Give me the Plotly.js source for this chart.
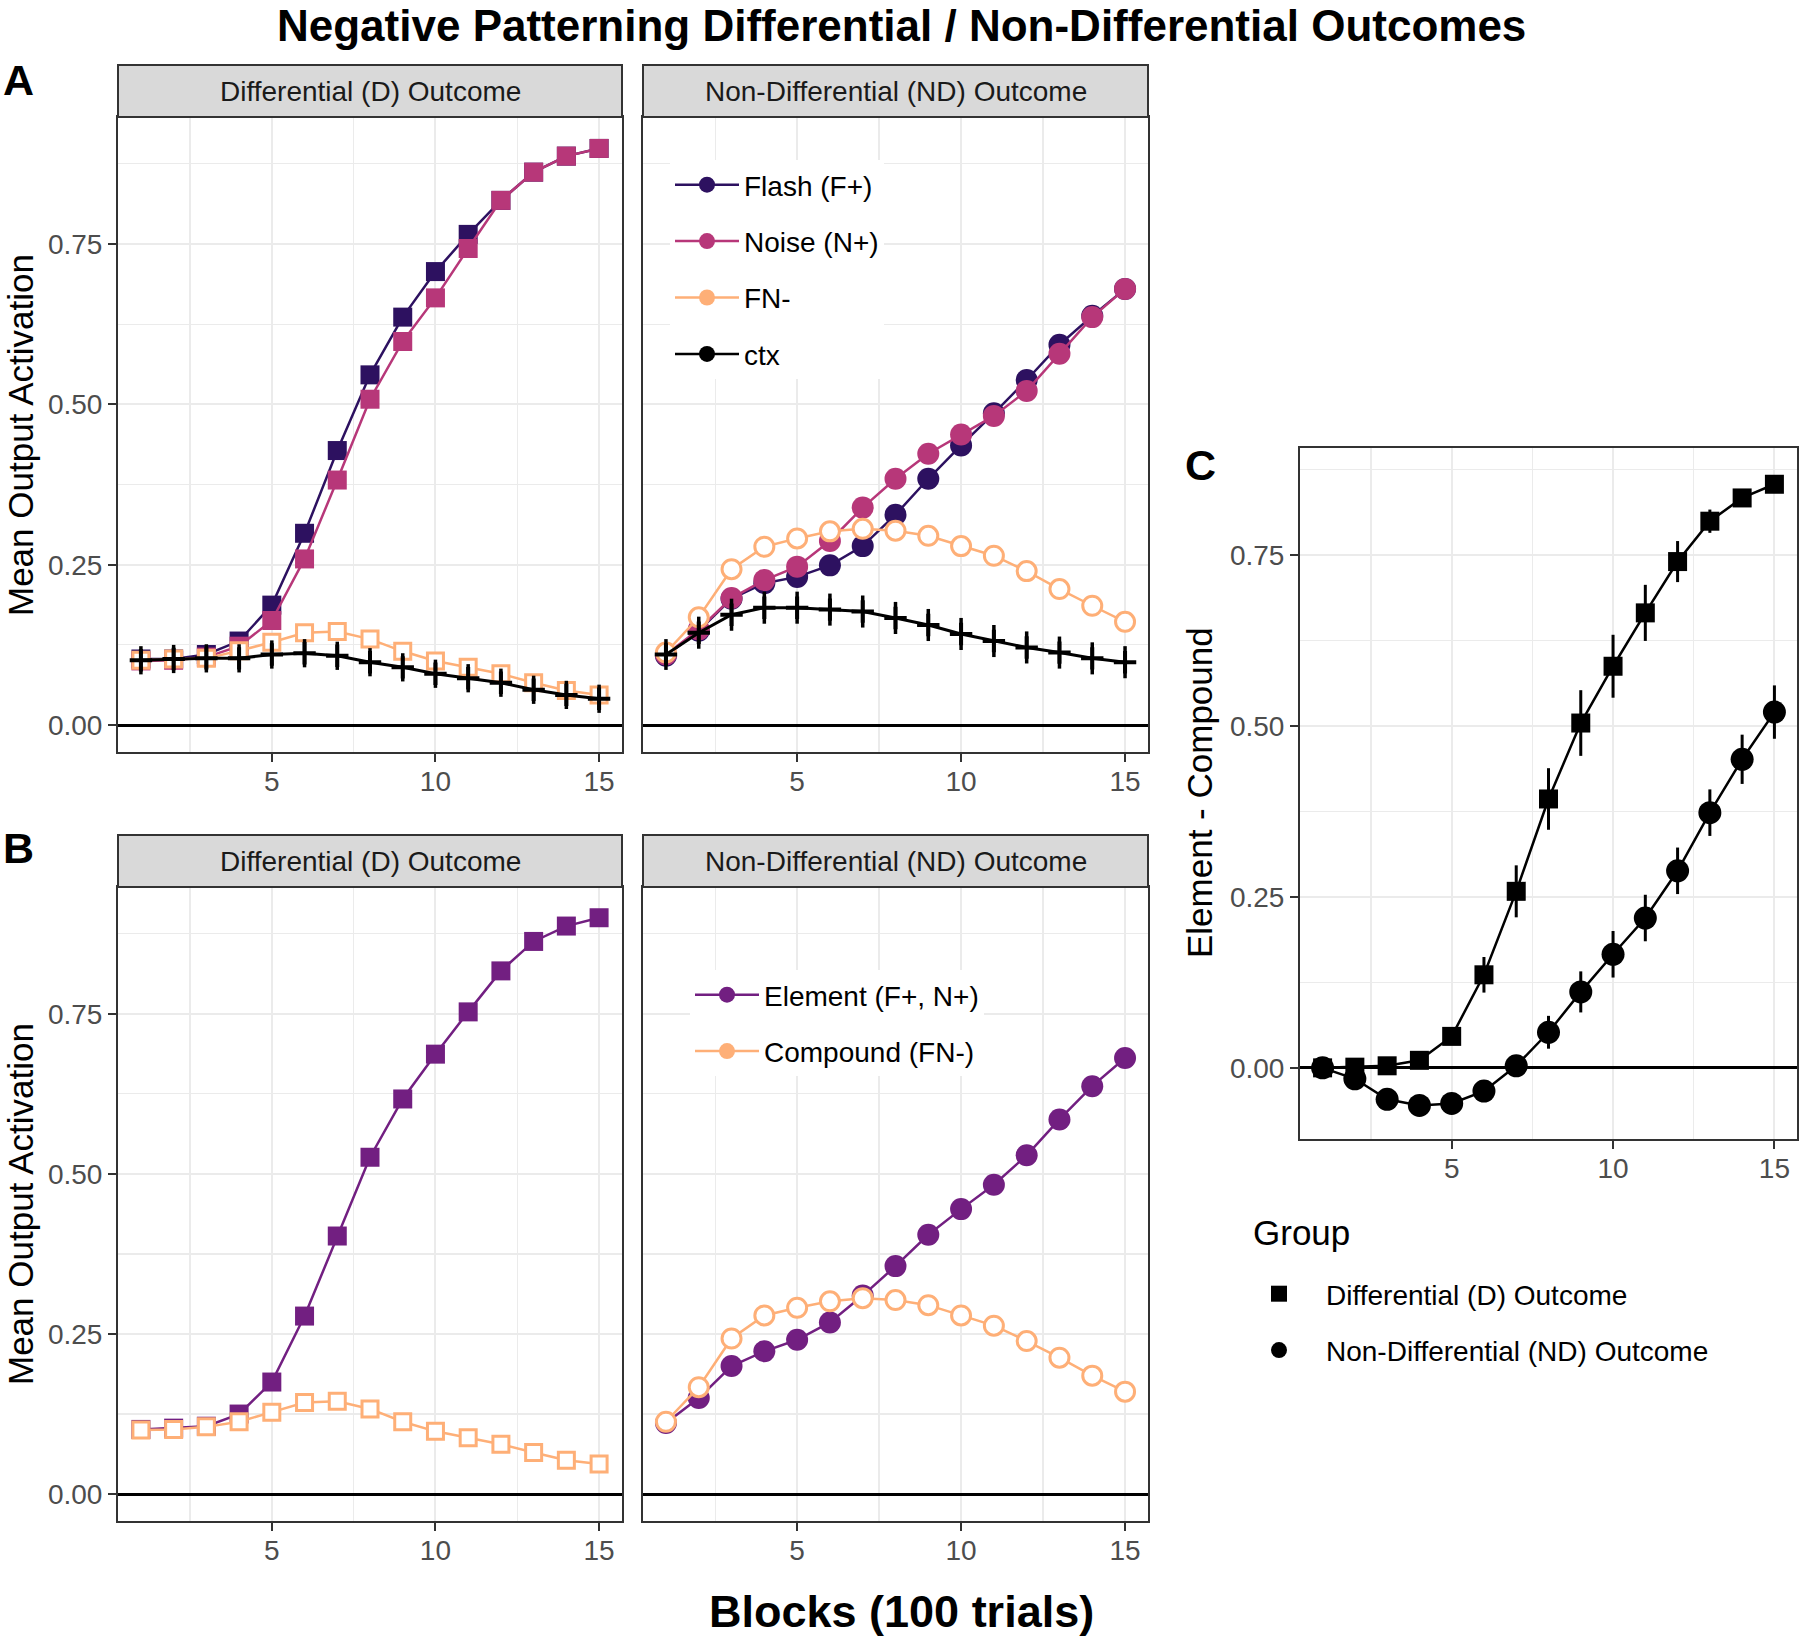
<!DOCTYPE html>
<html><head><meta charset="utf-8">
<script src="https://cdn.plot.ly/plotly-3.0.1.min.js"></script>
<style>html,body{margin:0;padding:0;background:#fff}</style>
</head><body>
<div id="chart" style="width:1800px;height:1641px"></div>
<script>
// ---------------- data ----------------
const blocks = [1,2,3,4,5,6,7,8,9,10,11,12,13,14,15];

// Panel A, Differential outcome
const flashD = [0.103,0.103,0.110,0.131,0.187,0.299,0.428,0.546,0.636,0.707,0.765,0.818,0.862,0.887,0.899];
const noiseD = [0.100,0.101,0.106,0.123,0.163,0.259,0.382,0.508,0.598,0.666,0.743,0.818,0.862,0.887,0.899];
const fnD    = [0.101,0.103,0.104,0.116,0.129,0.144,0.146,0.134,0.115,0.100,0.090,0.080,0.066,0.054,0.047];
const ctxD   = [0.101,0.103,0.104,0.104,0.110,0.112,0.108,0.098,0.090,0.080,0.073,0.066,0.055,0.047,0.041];
const ctxDErr = [0.022,0.022,0.022,0.022,0.022,0.022,0.022,0.022,0.022,0.022,0.022,0.022,0.022,0.022,0.022];

// Panel A, Non-Differential outcome
const flashND = [0.108,0.147,0.197,0.221,0.231,0.249,0.279,0.328,0.384,0.436,0.486,0.538,0.593,0.638,0.680];
const noiseND = [0.110,0.149,0.198,0.226,0.247,0.287,0.339,0.384,0.423,0.453,0.482,0.521,0.579,0.636,0.680];
const fnND    = [0.113,0.168,0.243,0.278,0.291,0.302,0.306,0.303,0.295,0.279,0.264,0.240,0.212,0.186,0.161];
const ctxND   = [0.110,0.144,0.172,0.183,0.183,0.180,0.177,0.167,0.156,0.142,0.131,0.121,0.113,0.104,0.098];
const ctxNDErr = [0.024,0.025,0.025,0.025,0.025,0.025,0.025,0.025,0.025,0.025,0.025,0.025,0.025,0.025,0.025];

// Panel B
const elementD   = [0.101,0.103,0.106,0.125,0.175,0.278,0.403,0.526,0.617,0.687,0.753,0.817,0.863,0.887,0.900];
const compoundD  = [0.100,0.101,0.105,0.113,0.128,0.143,0.145,0.133,0.113,0.098,0.088,0.078,0.065,0.053,0.047];
const elementND  = [0.111,0.150,0.200,0.223,0.241,0.268,0.310,0.356,0.405,0.445,0.483,0.529,0.585,0.637,0.681];
const compoundND = [0.113,0.167,0.243,0.279,0.291,0.301,0.306,0.303,0.295,0.279,0.263,0.239,0.213,0.185,0.160];

// Panel C: Element - Compound
const diffD    = [0.000,0.001,0.003,0.011,0.046,0.136,0.258,0.393,0.504,0.587,0.665,0.740,0.799,0.833,0.853];
const diffDErr = [0.003,0.004,0.006,0.008,0.012,0.026,0.038,0.045,0.048,0.046,0.041,0.030,0.017,0.010,0.008];
const diffND    = [0.000,-0.016,-0.046,-0.055,-0.052,-0.034,0.003,0.052,0.111,0.166,0.219,0.288,0.373,0.451,0.520];
const diffNDErr = [0.004,0.008,0.010,0.010,0.010,0.010,0.012,0.024,0.030,0.034,0.034,0.034,0.034,0.036,0.039];

const xTicks = [5,10,15];
const yTicksAB = [0,0.25,0.5,0.75];
const yTicksC = [0,0.25,0.5,0.75];
const yTickText = ['0.00','0.25','0.50','0.75'];

const seriesA = ['Flash (F+)','Noise (N+)','FN-','ctx'];
const seriesB = ['Element (F+, N+)','Compound (FN-)'];
const groupsC = ['Differential (D) Outcome','Non-Differential (ND) Outcome'];
const stripLabels = ['Differential (D) Outcome','Non-Differential (ND) Outcome'];

// ---------------- styling ----------------
const W = 1800, H = 1641;
const px = v => v / W;
const py = v => 1 - v / H;
const FONT = 'Liberation Sans, Arial, Helvetica, sans-serif';
const C_FLASH = '#2D1160', C_NOISE = '#B73779', C_FN = '#FEAF77', C_ELEM = '#721F81';

const xBase = {
  range:[0.3,15.7], tickmode:'array', tickvals:xTicks, ticktext:xTicks.map(String),
  showline:true, mirror:true, linecolor:'#333333', linewidth:2,
  ticks:'outside', ticklen:8, tickwidth:2, tickcolor:'#333333', ticklabelstandoff:-5,
  showgrid:true, gridcolor:'#ebebeb', gridwidth:2, zeroline:false,
  tickfont:{family:FONT,size:28,color:'#4d4d4d'},
  minor:{tick0:0,dtick:2.5,showgrid:true,gridcolor:'#ebebeb',gridwidth:1.2,ticks:''},
  fixedrange:true
};
function yBase(range, show){
  return {
    range:range, tickmode:'array', tickvals:yTicksAB, ticktext:yTickText,
    showline:true, mirror:true, linecolor:'#333333', linewidth:2,
    ticks: show ? 'outside' : '', ticklen:8, tickwidth:2, tickcolor:'#333333',
    showticklabels: show,
    showgrid:true, gridcolor:'#ebebeb', gridwidth:2,
    zeroline:true, zerolinecolor:'#000000', zerolinewidth:3,
    tickfont:{family:FONT,size:28,color:'#4d4d4d'},
    minor:{tick0:0,dtick:0.125,showgrid:true,gridcolor:'#ebebeb',gridwidth:1.2,ticks:''},
    fixedrange:true
  };
}
const yRangeAB = [-0.042, 0.948];
const yRangeC = [-0.104, 0.906];

const colL = [px(118), px(622)], colR = [px(643), px(1148)];
const rowA = [py(752), py(117)], rowB = [py(1521), py(887)];

function lineTrace(x, y, xa, ya, color, symbol, size, opts){
  const t = {
    x:x, y:y, xaxis:xa, yaxis:ya, type:'scatter', mode:'lines+markers',
    showlegend:false, hoverinfo:'skip',
    line:{color:color, width:2.5},
    marker:{symbol:symbol, size:size, color:color, line:{width:0}}
  };
  return Object.assign(t, opts || {});
}
function openTrace(x, y, xa, ya, color, symbol, size){
  return {
    x:x, y:y, xaxis:xa, yaxis:ya, type:'scatter', mode:'lines+markers',
    showlegend:false, hoverinfo:'skip',
    line:{color:color, width:2.5},
    marker:{symbol:symbol, size:size, color:'#ffffff', line:{color:color, width:3}}
  };
}
function ctxTrace(x, y, err, xa, ya){
  return {
    x:x, y:y, xaxis:xa, yaxis:ya, type:'scatter', mode:'lines+markers',
    showlegend:false, hoverinfo:'skip',
    line:{color:'#000000', width:3},
    marker:{symbol:'cross-thin', size:16, color:'#000000', line:{color:'#000000', width:4}},
    error_y:{type:'data', array:err, visible:true, color:'#000000', thickness:3.5, width:0}
  };
}
function legendDummy(name, color, symbol, xa, ya, legend, group, mode){
  return {
    x:[null], y:[null], xaxis:xa, yaxis:ya, type:'scatter', mode:mode || 'lines+markers',
    name:name, legend:legend, legendgroup:group, showlegend:true, hoverinfo:'skip',
    line:{color:color, width:2.5},
    marker:{symbol:symbol, size:16, color:color}
  };
}

const traces = [
  // A left (D)
  lineTrace(blocks, flashD, 'x', 'y', C_FLASH, 'square', 19),
  lineTrace(blocks, noiseD, 'x', 'y', C_NOISE, 'square', 19),
  openTrace(blocks, fnD, 'x', 'y', C_FN, 'square', 16),
  ctxTrace(blocks, ctxD, ctxDErr, 'x', 'y'),
  // A right (ND)
  lineTrace(blocks, flashND, 'x2', 'y2', C_FLASH, 'circle', 22),
  lineTrace(blocks, noiseND, 'x2', 'y2', C_NOISE, 'circle', 22),
  openTrace(blocks, fnND, 'x2', 'y2', C_FN, 'circle', 19),
  ctxTrace(blocks, ctxND, ctxNDErr, 'x2', 'y2'),
  // B left (D)
  lineTrace(blocks, elementD, 'x3', 'y3', C_ELEM, 'square', 19),
  openTrace(blocks, compoundD, 'x3', 'y3', C_FN, 'square', 16),
  // B right (ND)
  lineTrace(blocks, elementND, 'x4', 'y4', C_ELEM, 'circle', 22),
  openTrace(blocks, compoundND, 'x4', 'y4', C_FN, 'circle', 19),
  // C
  lineTrace(blocks, diffD, 'x5', 'y5', '#000000', 'square', 19,
    {error_y:{type:'data', array:diffDErr, visible:true, color:'#000000', thickness:3, width:0}}),
  lineTrace(blocks, diffND, 'x5', 'y5', '#000000', 'circle', 23,
    {error_y:{type:'data', array:diffNDErr, visible:true, color:'#000000', thickness:3, width:0}}),
  // legend keys
  legendDummy(seriesA[0], C_FLASH, 'circle', 'x2', 'y2', 'legend', 'a1'),
  legendDummy(seriesA[1], C_NOISE, 'circle', 'x2', 'y2', 'legend', 'a2'),
  legendDummy(seriesA[2], C_FN, 'circle', 'x2', 'y2', 'legend', 'a3'),
  legendDummy(seriesA[3], '#000000', 'circle', 'x2', 'y2', 'legend', 'a4'),
  legendDummy(seriesB[0], C_ELEM, 'circle', 'x4', 'y4', 'legend2', 'b1'),
  legendDummy(seriesB[1], C_FN, 'circle', 'x4', 'y4', 'legend2', 'b2'),
  legendDummy(groupsC[0], '#000000', 'square', 'x5', 'y5', 'legend3', 'c1', 'markers'),
  legendDummy(groupsC[1], '#000000', 'circle', 'x5', 'y5', 'legend3', 'c2', 'markers')
];

function strip(x0, x1, y0, y1){
  return {type:'rect', xref:'paper', yref:'paper', x0:px(x0), x1:px(x1), y0:py(y1), y1:py(y0),
          fillcolor:'#d9d9d9', line:{color:'#333333', width:2}, layer:'above'};
}
const shapes = [
  strip(118, 622, 65, 117), strip(643, 1148, 65, 117),
  strip(118, 622, 835, 887), strip(643, 1148, 835, 887)
];

function ann(text, x, y, size, opts){
  return Object.assign({text:text, xref:'paper', yref:'paper', x:x, y:y, showarrow:false,
    xanchor:'center', yanchor:'middle', font:{family:FONT, size:size, color:'#000000'}}, opts || {});
}
const stripFont = {family:FONT,size:28,color:'#1a1a1a'};
const annotations = [
  ann('<b>Negative Patterning Differential / Non-Differential Outcomes</b>', px(901), py(26), 44),
  ann('<b>A</b>', px(18), py(80), 43),
  ann('<b>B</b>', px(18), py(848), 43),
  ann('<b>C</b>', px(1200), py(465), 43),
  ann(stripLabels[0], px(370), py(91), 28, {font:stripFont}),
  ann(stripLabels[1], px(895.5), py(91), 28, {font:stripFont}),
  ann(stripLabels[0], px(370), py(861), 28, {font:stripFont}),
  ann(stripLabels[1], px(895.5), py(861), 28, {font:stripFont}),
  ann('Mean Output Activation', px(20), py(435), 35, {textangle:-90}),
  ann('Mean Output Activation', px(20), py(1204), 35, {textangle:-90}),
  ann('Element - Compound', px(1199), py(793), 35, {textangle:-90}),
  ann('<b>Blocks (100 trials)</b>', px(901), py(1611), 45),
  ann('Group', px(1251), py(1232), 35, {xanchor:'left'})
];

const legFont = {family:FONT, size:28, color:'#000000'};
const layout = {
  width:W, height:H, margin:{l:0,r:0,t:0,b:0},
  paper_bgcolor:'#ffffff', plot_bgcolor:'#ffffff',
  font:{family:FONT},
  xaxis:Object.assign({}, xBase, {domain:colL, anchor:'y'}),
  yaxis:Object.assign(yBase(yRangeAB, true), {domain:rowA, anchor:'x'}),
  xaxis2:Object.assign({}, xBase, {domain:colR, anchor:'y2'}),
  yaxis2:Object.assign(yBase(yRangeAB, false), {domain:rowA, anchor:'x2'}),
  xaxis3:Object.assign({}, xBase, {domain:colL, anchor:'y3'}),
  yaxis3:Object.assign(yBase(yRangeAB, true), {domain:rowB, anchor:'x3'}),
  xaxis4:Object.assign({}, xBase, {domain:colR, anchor:'y4'}),
  yaxis4:Object.assign(yBase(yRangeAB, false), {domain:rowB, anchor:'x4'}),
  xaxis5:Object.assign({}, xBase, {domain:[px(1300), px(1797)], anchor:'y5'}),
  yaxis5:Object.assign(yBase(yRangeC, true), {domain:[py(1139), py(448)], anchor:'x5', tickvals:yTicksC}),
  legend:{x:px(670), y:py(160), xanchor:'left', yanchor:'top', bgcolor:'#ffffff', borderwidth:0,
          font:legFont, itemwidth:64, tracegroupgap:17, traceorder:'grouped'},
  legend2:{x:px(690), y:py(970), xanchor:'left', yanchor:'top', bgcolor:'#ffffff', borderwidth:0,
          font:legFont, itemwidth:64, tracegroupgap:17, traceorder:'grouped'},
  legend3:{x:px(1232), y:py(1269), xanchor:'left', yanchor:'top', bgcolor:'rgba(0,0,0,0)', borderwidth:0,
          font:legFont, itemwidth:84, tracegroupgap:17, traceorder:'grouped'},
  shapes:shapes,
  annotations:annotations
};

Plotly.newPlot('chart', traces, layout, {displayModeBar:false, staticPlot:true});
</script>
</body></html>
